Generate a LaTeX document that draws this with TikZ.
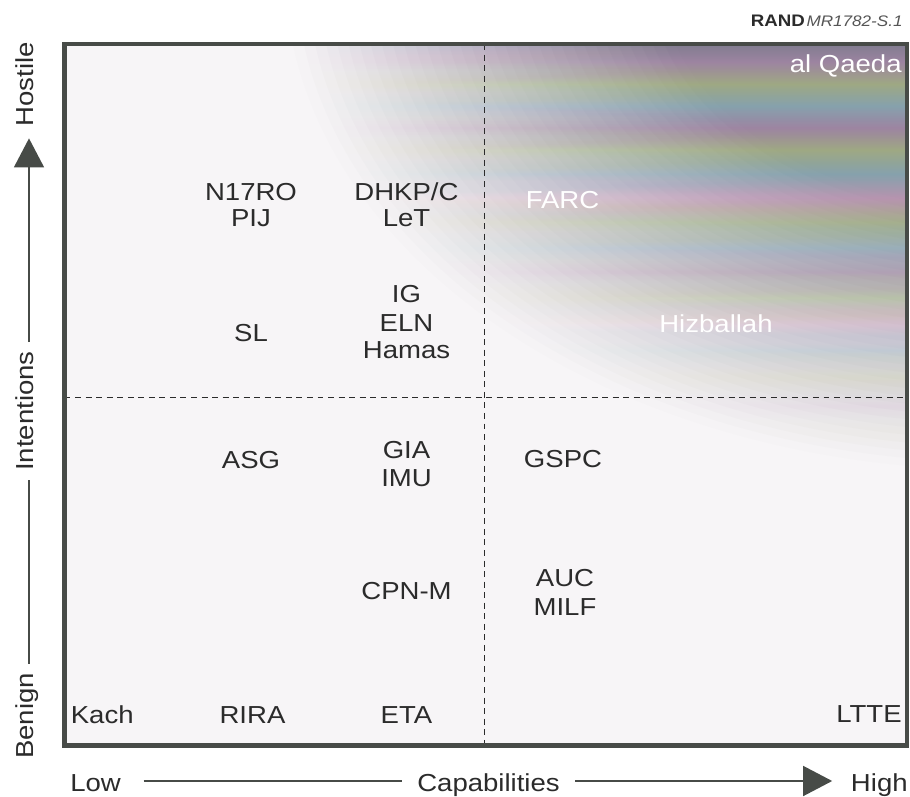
\documentclass[tikz,border=0pt]{standalone}
\usepackage{fontspec}
\setmainfont[FakeStretch=1.12]{Liberation Sans}
\usepackage{xcolor}
\definecolor{textDark}{HTML}{2B2B2B}
\definecolor{frameDark}{HTML}{474B47}
\definecolor{paperTint}{HTML}{F7F5F7}
\definecolor{tagGrey}{HTML}{555555}
\definecolor{bandViolet}{HTML}{7E7A8E}
\definecolor{bandMauve}{HTML}{9C82A0}
\definecolor{bandOlive}{HTML}{9DA781}
\definecolor{bandTeal}{HTML}{84A0AC}
\definecolor{bandPink}{HTML}{B692AE}
\usepackage{tikz}
\usetikzlibrary{arrows.meta}

% stripes of the shaded corner, bottom (25bp) to top (75bp) of the frame
\pgfdeclareverticalshading{irisBands}{100bp}{%
  color(0bp)=(paperTint); color(25bp)=(paperTint); color(33.95bp)=(paperTint);
  color(38.22bp)=(bandOlive!50!paperTint); color(41.79bp)=(bandPink);
  color(44.64bp)=(bandTeal); color(47.06bp)=(bandOlive);
  color(49.20bp)=(bandMauve); color(51.20bp)=(bandOlive);
  color(53.19bp)=(bandTeal); color(55.04bp)=(bandPink);
  color(56.90bp)=(bandOlive); color(58.75bp)=(bandMauve);
  color(60.46bp)=(bandTeal); color(62.31bp)=(bandOlive);
  color(64.02bp)=(bandPink); color(65.73bp)=(bandTeal);
  color(67.45bp)=(bandOlive); color(69.02bp)=(bandMauve);
  color(70.58bp)=(bandTeal); color(72.15bp)=(bandOlive);
  color(73.72bp)=(bandMauve); color(75bp)=(bandViolet);
  color(100bp)=(bandViolet)}

\tikzset{
  declare function={fadeT(\r)=max(0,min(0.97,(\r<510)*(1-0.6*(\r-300)/210)+(\r>=510)*(0.4*(650-\r)/140)));},
  groupLabel/.style={
    anchor=base,
    inner sep=0pt,
    text=textDark,
    font=\fontsize{14}{16}\selectfont
 },
  whiteLabel/.style={
    groupLabel,
    text=white
 },
  axisLabel/.style={
    anchor=base,
    inner sep=0pt,
    text=textDark,
    font=\fontsize{14}{16}\selectfont
 },
  tagLabel/.style={
    anchor=base east,
    inner sep=0pt,
    text=textDark,
    font=\fontsize{9.5}{11}\selectfont
 },
  frameLine/.style={
    draw=frameDark,
    line width=2.3pt
 },
  quadLine/.style={
    draw=textDark,
    line width=0.9pt,
    dash pattern=on 3.4pt off 2.6pt
 },
  axisLine/.style={
    draw=frameDark,
    line width=1.1pt
 },
  axisArrow/.style={
    axisLine,
    -{Triangle[length=16.5pt,width=17pt]}
 }
}

\begin{document}
\begin{tikzpicture}[x=0.02cm, y=-0.02cm]
            \useasboundingbox (0,0) rectangle (910,797);
            \coordinate (frameNW) at (64.5,44);
            \coordinate (frameSE) at (907,745.5);
            \coordinate (midX) at (484.5,397.5);
            \coordinate (fadeCenter) at (1000,-30);

            % background and shaded corner, faded out by stacked ellipses
            \fill[paperTint] (frameNW) rectangle (frameSE);
            \begin{scope}
              \clip (frameNW) rectangle (frameSE);
              \foreach \k in {0,...,35} {
                \pgfmathsetmacro{\rOut}{650-10*\k}
                \pgfmathsetmacro{\tNow}{fadeT(\rOut-5)}
                \pgfmathsetmacro{\tPrev}{fadeT(\rOut+5)}
                \pgfmathsetmacro{\alphaK}{1-(1-\tNow)/(1-\tPrev)}
                \begin{scope}
                  \clip (fadeCenter) circle[x radius=1.1*\rOut, y radius=\rOut/1.3];
                  \shade[shading=irisBands, opacity=\alphaK] (frameNW) rectangle (frameSE);
                \end{scope}
              }
            \end{scope}

            \draw[quadLine] (midX |- frameNW) -- (midX |- frameSE);
            \draw[quadLine] (frameNW |- midX) -- (frameSE |- midX);
            \draw[frameLine] (frameNW) rectangle (frameSE);

            \node[tagLabel] (randTag) at (903,27) {\textbf{RAND}\kern1pt{\itshape\color{tagGrey}\fontsize{8.7}{11}\selectfont MR1782-S.1}};

            % upper left
            \node[groupLabel] (n17ro) at (251,200.5) {N17RO};
            \node[groupLabel] (pij) at (251,226.7) {PIJ};
            \node[groupLabel] (sl) at (251,341.7) {SL};
            \node[groupLabel] (dhkpc) at (406.5,200.7) {DHKP/C};
            \node[groupLabel] (let) at (406.5,226.7) {LeT};
            \node[groupLabel] (ig) at (406.5,303) {IG};
            \node[groupLabel] (eln) at (406.5,331.5) {ELN};
            \node[groupLabel] (hamas) at (406.5,358) {Hamas};

            % upper right
            \node[whiteLabel, anchor=base east] (alqaeda) at (902,73) {al Qaeda};
            \node[whiteLabel] (farc) at (562.5,208.3) {FARC};
            \node[whiteLabel] (hizballah) at (716,333) {Hizballah};

            % lower left
            \node[groupLabel] (asg) at (251,468) {ASG};
            \node[groupLabel] (gia) at (406.5,459) {GIA};
            \node[groupLabel] (imu) at (406.5,486.7) {IMU};
            \node[groupLabel] (cpnm) at (406.5,599) {CPN-M};
            \node[groupLabel, anchor=base west] (kach) at (70.5,723) {Kach};
            \node[groupLabel] (rira) at (252.5,723) {RIRA};
            \node[groupLabel] (eta) at (406.5,723) {ETA};

            % lower right
            \node[groupLabel] (gspc) at (563,467.3) {GSPC};
            \node[groupLabel] (auc) at (565,586.7) {AUC};
            \node[groupLabel] (milf) at (565,615) {MILF};
            \node[groupLabel, anchor=base east] (ltte) at (902,722) {LTTE};

            % axes
            \coordinate (axisLeft) at (29,0);
            \coordinate (axisBottom) at (0,781);
            \node[axisLabel, rotate=90] (benign) at (33,716) {Benign};
            \node[axisLabel, rotate=90] (intentions) at (33,411) {Intentions};
            \node[axisLabel, rotate=90] (hostile) at (33,84.5) {Hostile};
            \node[axisLabel, anchor=base west] (low) at (70,791) {Low};
            \node[axisLabel] (capab) at (488.5,791) {Capabilities};
            \node[axisLabel, anchor=base east] (high) at (908,791) {High};

            \draw[axisLine, shorten <=5pt, shorten >=5pt] (benign.east -| axisLeft) -- (intentions.west -| axisLeft);
            \draw[axisArrow, shorten <=5pt, shorten >=6.5pt] (intentions.east -| axisLeft) -- (hostile.west -| axisLeft);
            \draw[axisLine, shorten <=12.8pt, shorten >=8.7pt] (low.east |- axisBottom) -- (capab.west |- axisBottom);
            \draw[axisArrow, shorten <=8.7pt, shorten >=10.5pt] (capab.east |- axisBottom) -- (high.west |- axisBottom);
        \end{tikzpicture}
\end{document}
